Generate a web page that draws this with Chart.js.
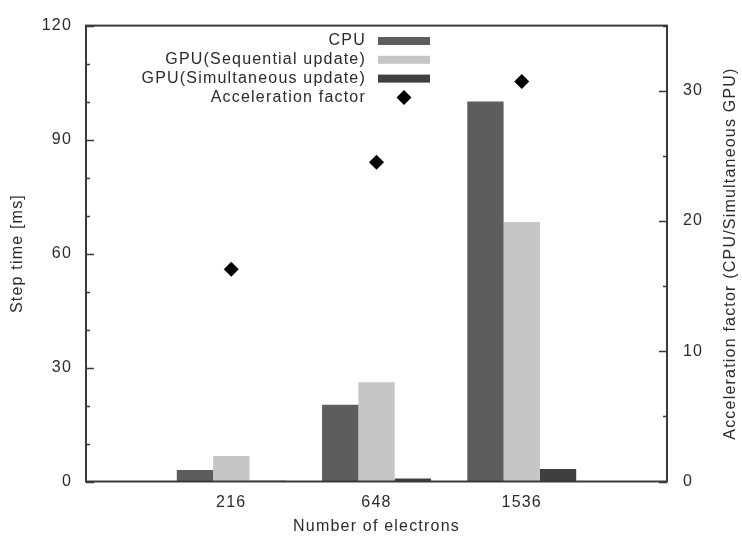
<!DOCTYPE html>
<html>
<head>
<meta charset="utf-8">
<title>Step time vs number of electrons</title>
<script src="https://cdn.jsdelivr.net/npm/chart.js@4/dist/chart.umd.min.js"></script>
<style>
  html, body { margin: 0; padding: 0; background: #ffffff; }
  #wrap { width: 742px; height: 536px; }
</style>
</head>
<body>
<div id="wrap"><canvas id="chart" width="742" height="536"></canvas></div>
<script>
// Categories (number of electrons)
const electrons = ['216', '648', '1536'];

// Step time per update [ms]
const cpuTime = [3.0, 20.2, 100.0];
const gpuSequentialTime = [6.7, 26.1, 68.3];
const gpuSimultaneousTime = [0.18, 0.82, 3.26];

// Acceleration factor (CPU / simultaneous GPU)
const accelerationFactor = [16.3, 24.5, 30.7];

// Axis tick labels
const stepTimeTicks = [0, 30, 60, 90, 120];
const accelTicks = [0, 10, 20, 30];

const COLORS = {
  cpu: '#5d5d5d',
  seq: '#c6c6c6',
  sim: '#3f3f3f',
  accel: '#000000',
  text: '#2b2b2b',
  frame: '#3a3a3a'
};
const FONT_FAMILY = '"Liberation Sans", Arial, Helvetica, sans-serif';
const FONT_SIZE = 16;

Chart.defaults.font.family = FONT_FAMILY;
Chart.defaults.font.size = FONT_SIZE;
Chart.defaults.color = COLORS.text;

const toPoints = arr => arr.map((v, i) => ({ x: i, y: v }));

// Gnuplot-like frame, inward ticks, key and right-hand axis title
const decorations = {
  id: 'decorations',
  beforeDraw(chart) {
    chart.ctx.letterSpacing = '1.2px';
  },
  afterDraw(chart) {
    const ctx = chart.ctx;
    const area = chart.chartArea;
    const yL = chart.scales.y;
    const yR = chart.scales.y2;

    ctx.save();
    ctx.strokeStyle = COLORS.frame;
    ctx.lineWidth = 1.6;

    // inward ticks on the left axis (major every 30, minor every 10)
    ctx.beginPath();
    for (let v = yL.min; v <= yL.max; v += 10) {
      const py = Math.round(yL.getPixelForValue(v)) + 0.5;
      const len = (v % 30 === 0) ? 8 : 4;
      ctx.moveTo(area.left, py);
      ctx.lineTo(area.left + len, py);
    }
    // inward ticks on the right axis (major every 10, minor every 5)
    for (let v = yR.min; v <= yR.max; v += 5) {
      const py = Math.round(yR.getPixelForValue(v)) + 0.5;
      const len = (v % 10 === 0) ? 8 : 4;
      ctx.moveTo(area.right, py);
      ctx.lineTo(area.right - len, py);
    }
    ctx.stroke();

    // frame around the plot
    ctx.lineWidth = 2;
    ctx.strokeRect(area.left, area.top, area.right - area.left, area.bottom - area.top);

    // right-hand axis title, reading bottom to top
    ctx.fillStyle = COLORS.text;
    ctx.font = FONT_SIZE + 'px ' + FONT_FAMILY;
    ctx.textAlign = 'center';
    ctx.textBaseline = 'middle';
    ctx.save();
    ctx.translate(731, (area.top + area.bottom) / 2);
    ctx.rotate(-Math.PI / 2);
    ctx.fillText('Acceleration factor (CPU/Simultaneous GPU)', 0, 0);
    ctx.restore();

    // key
    const textRight = 366;
    const swatchLeft = 378;
    const swatchWidth = 52;
    const rowTop = 41;
    const rowStep = 18.8;
    ctx.textAlign = 'right';
    chart.data.datasets.forEach((ds, i) => {
      const cy = rowTop + i * rowStep;
      ctx.fillStyle = COLORS.text;
      ctx.fillText(ds.label, textRight, cy);
      if (ds.type === 'scatter') {
        const cx = swatchLeft + swatchWidth / 2;
        const r = 7.5;
        ctx.fillStyle = ds.backgroundColor;
        ctx.beginPath();
        ctx.moveTo(cx, cy - r);
        ctx.lineTo(cx + r, cy);
        ctx.lineTo(cx, cy + r);
        ctx.lineTo(cx - r, cy);
        ctx.closePath();
        ctx.fill();
      } else {
        ctx.fillStyle = ds.backgroundColor;
        ctx.fillRect(swatchLeft, cy - 4, swatchWidth, 8);
      }
    });
    ctx.restore();
  }
};

new Chart(document.getElementById('chart'), {
  type: 'bar',
  data: {
    datasets: [
      {
        label: 'CPU',
        data: toPoints(cpuTime),
        backgroundColor: COLORS.cpu,
        yAxisID: 'y'
      },
      {
        label: 'GPU(Sequential update)',
        data: toPoints(gpuSequentialTime),
        backgroundColor: COLORS.seq,
        yAxisID: 'y'
      },
      {
        label: 'GPU(Simultaneous update)',
        data: toPoints(gpuSimultaneousTime),
        backgroundColor: COLORS.sim,
        yAxisID: 'y'
      },
      {
        type: 'scatter',
        label: 'Acceleration factor',
        data: toPoints(accelerationFactor),
        backgroundColor: COLORS.accel,
        borderColor: COLORS.accel,
        pointStyle: 'rectRot',
        pointRadius: 7.5,
        borderWidth: 0,
        yAxisID: 'y2'
      }
    ]
  },
  options: {
    responsive: false,
    animation: false,
    events: [],
    categoryPercentage: 0.75,
    barPercentage: 1.0,
    layout: { padding: { top: 22, left: 0, right: 0, bottom: 0 } },
    plugins: {
      legend: { display: false },
      tooltip: { enabled: false }
    },
    scales: {
      x: {
        type: 'linear',
        min: -1,
        max: 3,
        offset: false,
        grid: { display: false, drawTicks: false },
        border: { display: false },
        afterBuildTicks: scale => {
          scale.ticks = electrons.map((_, i) => ({ value: i }));
        },
        afterFit: scale => { scale.height = 54.5; },
        ticks: {
          padding: 11,
          maxRotation: 0,
          callback: value => electrons[value] ?? ''
        },
        title: {
          display: true,
          text: 'Number of electrons',
          padding: { top: 0, bottom: 0 }
        }
      },
      y: {
        type: 'linear',
        position: 'left',
        min: 0,
        max: 120,
        grid: { display: false, drawTicks: false },
        border: { display: false },
        afterBuildTicks: scale => {
          scale.ticks = stepTimeTicks.map(v => ({ value: v }));
        },
        afterFit: scale => { scale.width = 86; },
        ticks: { padding: 14 },
        title: {
          display: true,
          text: 'Step time [ms]',
          padding: { top: 8, bottom: 0 }
        }
      },
      y2: {
        type: 'linear',
        position: 'right',
        min: 0,
        max: 35,
        grid: { display: false, drawTicks: false },
        border: { display: false },
        afterBuildTicks: scale => {
          scale.ticks = accelTicks.map(v => ({ value: v }));
        },
        afterFit: scale => { scale.width = 75; },
        ticks: { padding: 16 }
      }
    }
  },
  plugins: [decorations]
});
</script>
</body>
</html>
